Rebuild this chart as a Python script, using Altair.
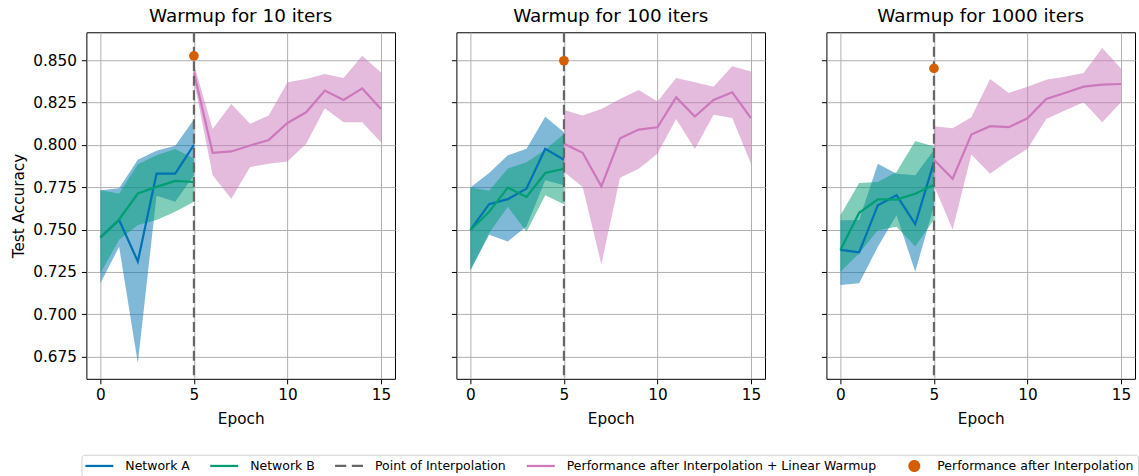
import altair as alt
import pandas as pd

FONT = "DejaVu Sans"

# ---------------- data ----------------
TITLES = ["Warmup for 10 iters", "Warmup for 100 iters", "Warmup for 1000 iters"]
NET_EPOCHS = [0, 1, 2, 3, 4, 5]
INTERP_EPOCHS = [5, 6, 7, 8, 9, 10, 11, 12, 13, 14, 15]
INTERP_EPOCH = 5
X_TICKS = [0, 5, 10, 15]
Y_TICKS = [0.675, 0.700, 0.725, 0.750, 0.775, 0.800, 0.825, 0.850]

SERIES = ["Network A", "Network B", "Point of Interpolation",
          "Performance after Interpolation + Linear Warmup",
          "Performance after Interpolation"]

# Warmup for 10 iters
A_MEAN_10 = [0.7455, 0.7557, 0.7312, 0.7830, 0.7830, 0.8000]
A_LO_10 = [0.7184, 0.7399, 0.6713, 0.7700, 0.7664, 0.7820]
A_HI_10 = [0.7732, 0.7744, 0.7912, 0.7965, 0.7994, 0.8149]
B_MEAN_10 = [0.7452, 0.7560, 0.7713, 0.7752, 0.7787, 0.7781]
B_LO_10 = [0.7243, 0.7440, 0.7527, 0.7557, 0.7605, 0.7665]
B_HI_10 = [0.7732, 0.7713, 0.7885, 0.7938, 0.7975, 0.7920]
P_MEAN_10 = [0.8427, 0.7953, 0.7961, 0.7996, 0.8029, 0.8129, 0.8192, 0.8320, 0.8265, 0.8333, 0.8212]
P_LO_10 = [0.8380, 0.7820, 0.7682, 0.7869, 0.7888, 0.7902, 0.8006, 0.8216, 0.8133, 0.8133, 0.8016]
P_HI_10 = [0.8476, 0.8094, 0.8241, 0.8124, 0.8173, 0.8369, 0.8388, 0.8418, 0.8394, 0.8525, 0.8427]
AFTER_10 = 0.8525

# Warmup for 100 iters
A_MEAN_100 = [0.7498, 0.7650, 0.7680, 0.7742, 0.7977, 0.7912]
A_LO_100 = [0.7260, 0.7469, 0.7430, 0.7520, 0.7791, 0.7762]
A_HI_100 = [0.7748, 0.7834, 0.7938, 0.7977, 0.8166, 0.8074]
B_MEAN_100 = [0.7498, 0.7605, 0.7748, 0.7693, 0.7834, 0.7859]
B_LO_100 = [0.7260, 0.7480, 0.7635, 0.7488, 0.7703, 0.7650]
B_HI_100 = [0.7748, 0.7729, 0.7860, 0.7898, 0.7971, 0.8064]
P_MEAN_100 = [0.8006, 0.7953, 0.7755, 0.8039, 0.8090, 0.8104, 0.8280, 0.8167, 0.8265, 0.8310, 0.8157]
P_LO_100 = [0.7841, 0.7751, 0.7296, 0.7806, 0.7859, 0.7947, 0.8153, 0.7976, 0.8178, 0.8159, 0.7888]
P_HI_100 = [0.8206, 0.8173, 0.8212, 0.8271, 0.8324, 0.8255, 0.8394, 0.8369, 0.8343, 0.8463, 0.8433]
AFTER_100 = 0.8496

# Warmup for 1000 iters
A_MEAN_1000 = [0.7380, 0.7366, 0.7644, 0.7703, 0.7532, 0.7898]
A_LO_1000 = [0.7174, 0.7184, 0.7399, 0.7585, 0.7252, 0.7640]
A_HI_1000 = [0.7555, 0.7556, 0.7888, 0.7830, 0.7820, 0.7970]
B_MEAN_1000 = [0.7380, 0.7599, 0.7679, 0.7677, 0.7712, 0.7765]
B_LO_1000 = [0.7252, 0.7360, 0.7497, 0.7517, 0.7400, 0.7560]
B_HI_1000 = [0.7585, 0.7775, 0.7781, 0.7840, 0.8022, 0.7990]
P_MEAN_1000 = [0.7912, 0.7800, 0.8061, 0.8110, 0.8104, 0.8157, 0.8271, 0.8306, 0.8343, 0.8355, 0.8359]
P_LO_1000 = [0.7760, 0.7500, 0.7943, 0.7829, 0.7908, 0.7976, 0.8153, 0.8202, 0.8251, 0.8133, 0.8251]
P_HI_1000 = [0.8110, 0.8098, 0.8163, 0.8388, 0.8306, 0.8343, 0.8384, 0.8402, 0.8424, 0.8571, 0.8451]
AFTER_1000 = 0.8451

# ---------------- styles ----------------
BLUE = "#0173B2"
GREEN = "#029E73"
GRAY = "#666666"
PINK = "#CC78BC"
ORANGE = "#D55E00"
COLORS = [BLUE, GREEN, GRAY, PINK, ORANGE]
LINE_PATH = "M-1,-0.16H3V0.16H-1Z"
DASH_PATH = "M-1,-0.16H0.6V0.16H-1Z M1.4,-0.16H3V0.16H1.4Z"
DOT_PATH = "M2.29,0A0.857,0.857 0 1,1 0.571,0A0.857,0.857 0 1,1 2.29,0Z"
SHAPES = [LINE_PATH, LINE_PATH, DASH_PATH, LINE_PATH, DOT_PATH]

XS = alt.Scale(domain=[-0.75, 15.75], nice=False, zero=False)
YS = alt.Scale(domain=[0.662, 0.8664], nice=False, zero=False)

LEG = alt.Legend(
    title=None, orient="none", legendX=-5, legendY=423,
    direction="horizontal", columns=5,
    labelFont=FONT, labelFontSize=12.5, labelColor="black", labelLimit=0,
    symbolSize=196, symbolStrokeWidth=0, symbolOpacity=1,
    labelOffset=26, columnPadding=20, padding=4,
    strokeColor="#d0d0d0", cornerRadius=3, fillColor="white",
)


def make_panel(idx, a_mean, a_lo, a_hi, b_mean, b_lo, b_hi, p_mean, p_lo, p_hi, after):
    first = idx == 0
    net = pd.DataFrame({"epoch": NET_EPOCHS, "a_mean": a_mean, "a_lo": a_lo, "a_hi": a_hi,
                        "b_mean": b_mean, "b_lo": b_lo, "b_hi": b_hi})
    interp = pd.DataFrame({"epoch": INTERP_EPOCHS, "p_mean": p_mean, "p_lo": p_lo, "p_hi": p_hi})
    point_df = pd.DataFrame({"epoch": [INTERP_EPOCH], "acc": [after]})
    rule_df = pd.DataFrame({"epoch": [INTERP_EPOCH]})
    leg_df = pd.DataFrame({"series": SERIES, "epoch": [INTERP_EPOCH] * len(SERIES),
                           "acc": [after] * len(SERIES)})

    x_axis = alt.Axis(values=X_TICKS, format="d", title="Epoch")
    if first:
        y_axis = alt.Axis(values=Y_TICKS, format=".3f", title="Test Accuracy")
    else:
        y_axis = alt.Axis(values=Y_TICKS, labels=False, title=None)

    def X():
        return alt.X("epoch:Q", scale=XS, axis=x_axis)

    def Y(f):
        return alt.Y(f + ":Q", scale=YS, axis=y_axis)

    band_a = alt.Chart(net).mark_area(color=BLUE, opacity=0.5).encode(X(), Y("a_lo"), alt.Y2("a_hi:Q"))
    band_b = alt.Chart(net).mark_area(color=GREEN, opacity=0.5).encode(X(), Y("b_lo"), alt.Y2("b_hi:Q"))
    band_p = alt.Chart(interp).mark_area(color=PINK, opacity=0.5).encode(X(), Y("p_lo"), alt.Y2("p_hi:Q"))
    line_a = alt.Chart(net).mark_line(color=BLUE, strokeWidth=2.2).encode(X(), Y("a_mean"))
    line_b = alt.Chart(net).mark_line(color=GREEN, strokeWidth=2.2).encode(X(), Y("b_mean"))
    line_p = alt.Chart(interp).mark_line(color=PINK, strokeWidth=2.2).encode(X(), Y("p_mean"))
    rule = alt.Chart(rule_df).mark_rule(color=GRAY, strokeDash=[10, 4.5], strokeWidth=2.2).encode(X())
    point = alt.Chart(point_df).mark_point(filled=True, shape="circle", size=95, color=ORANGE,
                                           opacity=1).encode(X(), Y("acc"))
    legend_layer = alt.Chart(leg_df).mark_point(filled=True, opacity=0, size=1).encode(
        X(), Y("acc"),
        color=alt.Color("series:N", scale=alt.Scale(domain=SERIES, range=COLORS), legend=LEG),
        shape=alt.Shape("series:N", scale=alt.Scale(domain=SERIES, range=SHAPES), legend=LEG),
    )
    return alt.layer(band_a, band_b, band_p, line_a, line_b, line_p, rule, point, legend_layer).properties(
        width=309, height=347,
        title=alt.TitleParams(text=TITLES[idx], font=FONT, fontSize=18.4, fontWeight="normal",
                              color="black", frame="group", anchor="middle", offset=6),
    )


panels = [
    make_panel(0, A_MEAN_10, A_LO_10, A_HI_10, B_MEAN_10, B_LO_10, B_HI_10, P_MEAN_10, P_LO_10, P_HI_10, AFTER_10),
    make_panel(1, A_MEAN_100, A_LO_100, A_HI_100, B_MEAN_100, B_LO_100, B_HI_100, P_MEAN_100, P_LO_100, P_HI_100, AFTER_100),
    make_panel(2, A_MEAN_1000, A_LO_1000, A_HI_1000, B_MEAN_1000, B_LO_1000, B_HI_1000, P_MEAN_1000, P_LO_1000, P_HI_1000, AFTER_1000),
]

chart = alt.hconcat(*panels, spacing=54.5).properties(
    padding={"left": 10.5, "top": 6, "right": 0, "bottom": 0},
    background="white",
).configure_view(
    stroke="black", strokeWidth=1,
).configure_axis(
    domain=False, grid=True, gridColor="#b0b0b0", gridWidth=1,
    tickColor="black", tickSize=5, tickWidth=1,
    labelFont=FONT, labelFontSize=15.3, labelColor="black",
    titleFont=FONT, titleFontSize=15.3, titleColor="black", titleFontWeight="normal",
).configure_axisX(
    labelPadding=4, titlePadding=8,
).configure_axisY(
    labelPadding=5, titlePadding=6,
)

chart.save("out.html", embed_options={"renderer": "svg", "actions": False})
